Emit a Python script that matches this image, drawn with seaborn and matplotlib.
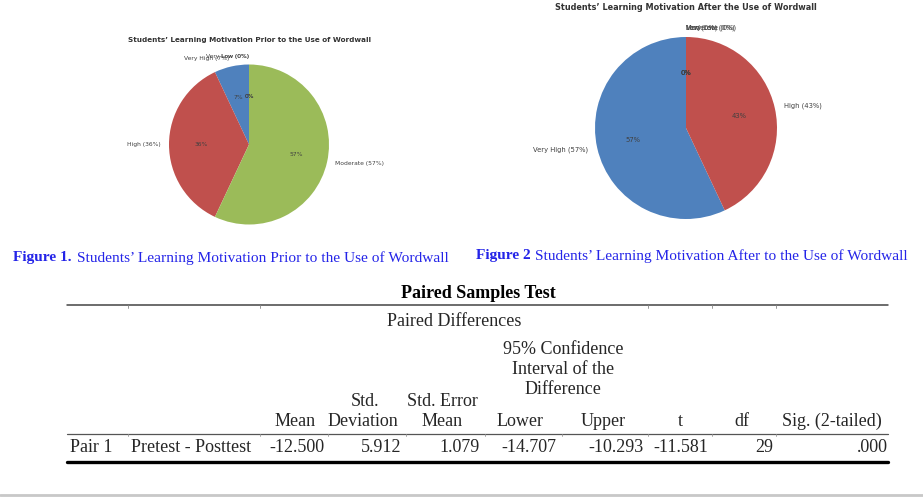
import matplotlib
matplotlib.use("Agg")
import matplotlib.pyplot as plt
import seaborn as sns

sns.set_theme(style="white")
plt.rcParams["font.family"] = ["DejaVu Sans"]

# ── data ────────────────────────────────────────────────────────────────
LEVELS = ["Very High", "High", "Moderate", "Low", "Very Low"]
PRE_PCT = [7, 36, 57, 0, 0]
POST_PCT = [57, 43, 0, 0, 0]

PIE_COLORS = sns.color_palette(["#4F81BD", "#C0504D", "#9BBB59", "#8064A2", "#4BACC6"])

TITLE_PRE = "Students\u2019 Learning Motivation Prior to the Use of Wordwall"
TITLE_POST = "Students\u2019 Learning Motivation After the Use of Wordwall"
CAP1_BOLD = "Figure 1."
CAP1_TEXT = "Students\u2019 Learning Motivation Prior to the Use of Wordwall"
CAP2_BOLD = "Figure 2"
CAP2_TEXT = "Students\u2019 Learning Motivation After to the Use of Wordwall"

TABLE_TITLE = "Paired Samples Test"
ROW_LABELS = ["Pair 1", "Pretest - Posttest"]
COL_HEADERS = ["Mean", "Deviation", "Mean", "Lower", "Upper", "t", "df", "Sig. (2-tailed)"]
ROW_VALUES = ["-12.500", "5.912", "1.079", "-14.707", "-10.293", "-11.581", "29", ".000"]

W, H = 923, 499
SERIF = ["Liberation Serif", "DejaVu Serif"]
BLUE = "#2424E8"

fig = plt.figure(figsize=(W / 100, H / 100), dpi=100)
bg = fig.add_axes([0, 0, 1, 1])
bg.set_xlim(0, W)
bg.set_ylim(H, 0)
bg.axis("off")


def draw_pie(cx, cy, r, values, title, title_y, fs, title_fs, zero_ha):
    ax = fig.add_axes([(cx - r) / W, 1 - (cy + r) / H, 2 * r / W, 2 * r / H])
    labels = [f"{lv} ({v}%)" for lv, v in zip(LEVELS, values)]
    wedges, texts, autotexts = ax.pie(
        values, labels=labels, colors=PIE_COLORS, startangle=90,
        autopct="%1.0f%%", labeldistance=1.1, pctdistance=0.6,
        wedgeprops={"linewidth": 0, "edgecolor": "none"},
        textprops={"fontsize": fs, "color": "#404040"},
    )
    for t, v in zip(texts, values):
        if v == 0:
            t.set_ha(zero_ha)
    ax.set_xlim(-1, 1)
    ax.set_ylim(-1, 1)
    bg.text(cx, title_y, title, ha="center", va="center", fontsize=title_fs,
            fontweight="bold", color="#333333")


draw_pie(249, 144.5, 80, PRE_PCT, TITLE_PRE, 40, 4.3, 5.2, "right")
draw_pie(686, 128, 91, POST_PCT, TITLE_POST, 7, 4.9, 5.9, "left")

# captions
CS = 11.1
bg.text(13, 258, CAP1_BOLD, ha="left", va="center", fontsize=CS, fontweight="bold",
        color=BLUE, family=SERIF)
bg.text(77, 258, CAP1_TEXT, ha="left", va="center", fontsize=CS, color=BLUE, family=SERIF)
bg.text(476, 256, CAP2_BOLD, ha="left", va="center", fontsize=CS, fontweight="bold",
        color=BLUE, family=SERIF)
bg.text(535, 256, CAP2_TEXT, ha="left", va="center", fontsize=CS, color=BLUE, family=SERIF)

# table
TS = 13
bg.text(478, 293, TABLE_TITLE, ha="center", va="center", fontsize=TS, fontweight="bold",
        color="black", family=SERIF)
bg.plot([67, 888], [305, 305], color="#444444", lw=1.1)
for x in [128, 260, 648, 712, 776]:
    bg.plot([x, x], [305, 307.5], color="#888888", lw=0.6)
bg.text(454, 322, "Paired Differences", ha="center", va="center", fontsize=TS, family=SERIF)
for txt, y in [("95% Confidence", 349), ("Interval of the", 370), ("Difference", 390)]:
    bg.text(563, y, txt, ha="center", va="center", fontsize=TS, family=SERIF)
bg.text(365, 401, "Std.", ha="center", va="center", fontsize=TS, family=SERIF)
bg.text(442, 401, "Std. Error", ha="center", va="center", fontsize=TS, family=SERIF)

head_x = [295, 363, 442, 520, 603, 680, 742, 832]
val_right = [324, 401, 480, 556, 644, 708, 773, 888]
for x, h in zip(head_x, COL_HEADERS):
    bg.text(x, 421, h, ha="center", va="center", fontsize=TS, family=SERIF)
bg.plot([67, 888], [433.5, 433.5], color="#555555", lw=0.9)
for x in [128, 260, 328, 406, 485, 562, 648, 712, 776]:
    bg.plot([x, x], [433.5, 436], color="#999999", lw=0.6)

bg.text(70, 448, ROW_LABELS[0], ha="left", va="center", fontsize=TS, family=SERIF)
bg.text(131, 448, ROW_LABELS[1], ha="left", va="center", fontsize=TS, family=SERIF)
for x, v in zip(val_right, ROW_VALUES):
    bg.text(x, 448, v, ha="right", va="center", fontsize=TS, family=SERIF)
bg.plot([67, 888], [461.5, 461.5], color="black", lw=2.4)

bg.plot([0, W], [494.5, 494.5], color="#C8C8C8", lw=2)

fig.savefig("out.png", dpi=100)
